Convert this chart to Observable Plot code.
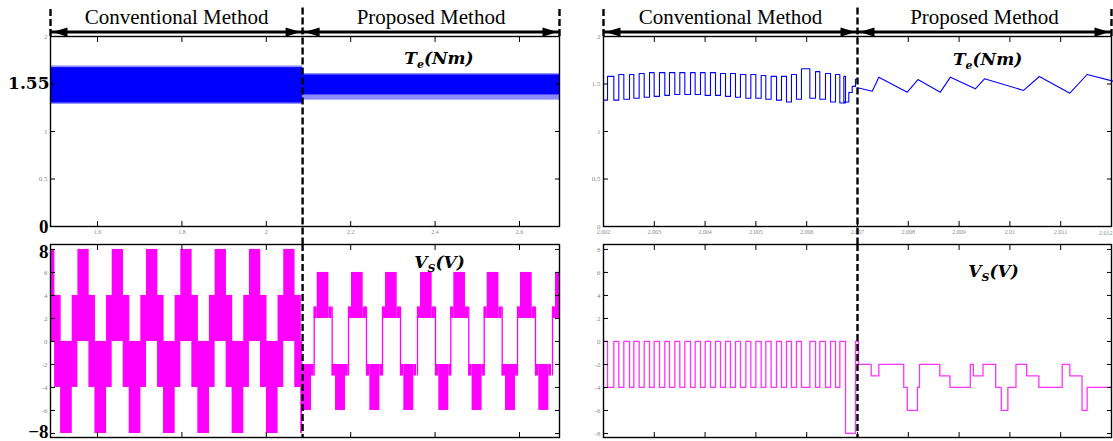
<!DOCTYPE html>
<html>
<head>
<meta charset="utf-8">
<script src="https://cdn.jsdelivr.net/npm/d3@7"></script>
<script src="https://cdn.jsdelivr.net/npm/@observablehq/plot@0.6"></script>
<style>
  html, body { margin: 0; padding: 0; background: #fff; }
  #root { position: relative; width: 1113px; height: 441px; overflow: hidden; background: #fff; }
  #root svg { position: absolute; left: 0; top: 0; overflow: visible; }
</style>
</head>
<body>
<div id="root"></div>
<script>
// ===================== DATA =====================
const methodLabels = ["Conventional Method", "Proposed Method"];

// Left column (long time window, s)
const leftXDomain = [1.4886, 2.6948];
const leftXTicks = [1.6, 1.8, 2.0, 2.2, 2.4, 2.6];
const leftSwitchT = 2.086;

// Right column (zoomed time window, s)
const rightXDomain = [2.002, 2.012];
const rightXTicks = [2.002, 2.003, 2.004, 2.005, 2.006, 2.007, 2.008, 2.009, 2.010, 2.011, 2.012];
const rightSwitchT = 2.007;

const teDomain = [0, 2];
const teTicks = [0, 0.5, 1, 1.5, 2];
const vsDomain = [-8.35, 8.43];
const vsTicks = [-8, -6, -4, -2, 0, 2, 4, 6, 8];

// Highlighted values written large beside the left column
const leftTeMean = ["1.55"];
const leftTeMeanAt = [1.5];
const leftTeZero = ["0"];
const leftTeZeroAt = [0];
const leftVsMarks = ["8", "\u22128"];
const leftVsMarkAt = [7.75, -7.9];

// Left Te: dense ripple envelope [t0, t1, low, high]
const leftTeCore = [[1.4886, 2.086, 1.30, 1.672], [2.086, 2.6948, 1.385, 1.595]];
const leftTeFuzz = [[1.4886, 2.086, 1.285, 1.69], [2.086, 2.6948, 1.33, 1.61]];

// Left Vs conventional: start of each electrical cycle and the block pattern in it [dt0, dt1, low, high]
const convVsCycleStart = [1.4587, 1.5400, 1.6213, 1.7026, 1.7839, 1.8652, 1.9465, 2.0278];
const convVsCycleShape = [[0, 0.0552, 0, 4], [0.0135, 0.0403, 0, 8], [0.0396, 0.0948, -4, 0], [0.0538, 0.0815, -8, 0]];

// Left Vs proposed: cycle starts and block pattern [dt0, dt1, low, high]
const propVsCycleStart = [2.0400, 2.1206, 2.2019, 2.2825, 2.3654, 2.4443, 2.5235, 2.6024, 2.6853];
const propVsCycleShape = [[0, 0.0277, 2, 6], [-0.0071, 0, 2, 3], [0.0277, 0.0355, 2, 3],
                          [0.0355, 0.0434, -3, -2], [0.0434, 0.0671, -6, -2], [0.0671, 0.0735, -3, -2]];
const propVsEdges = [-0.0071, 0.0355];

// Right Vs conventional: zero-voltage pulses (otherwise -4 V)
const rbConvZeroStart = [2.002000, 2.002203, 2.002400, 2.002597, 2.002801, 2.002997, 2.003207, 2.003404,
  2.003601, 2.003804, 2.004001, 2.004205, 2.004402, 2.004598, 2.004802, 2.004999, 2.005195, 2.005406,
  2.005602, 2.005799, 2.006062, 2.006258, 2.006469, 2.006652];
const rbConvZeroEnd = [2.002079, 2.002301, 2.002512, 2.002702, 2.002906, 2.003102, 2.003299, 2.003502,
  2.003713, 2.003909, 2.004106, 2.004303, 2.004500, 2.004696, 2.004900, 2.005104, 2.005300, 2.005504,
  2.005700, 2.005897, 2.006174, 2.006370, 2.006567, 2.006764];
const rbTailT = [2.006764, 2.006961];
const rbTailV = [-8, 0];
const rbPropT = [2.00702, 2.00727, 2.00742, 2.00791, 2.00798, 2.00818, 2.00822, 2.00862, 2.00882, 2.00922,
  2.00928, 2.00947, 2.00972, 2.00983, 2.00996, 2.01012, 2.01033, 2.01057, 2.01103, 2.01118, 2.01142, 2.01152, 2.012];
const rbPropV = [-2, -3, -2, -4, -6, -4, -2, -3, -4, -2, -3, -2, -4, -6, -4, -2, -3, -4, -2, -3, -6, -4, -4];

// Right Te conventional: low / high level per switching cycle
const rtConvLow = [1.33, 1.33, 1.34, 1.35, 1.36, 1.37, 1.38, 1.39, 1.39, 1.39, 1.38, 1.38,
  1.37, 1.36, 1.35, 1.35, 1.34, 1.33, 1.31, 1.34, 1.35, 1.34, 1.31, 1.30];
const rtConvHigh = [1.58, 1.60, 1.60, 1.61, 1.62, 1.62, 1.62, 1.62, 1.62, 1.62, 1.62, 1.61,
  1.61, 1.60, 1.60, 1.59, 1.58, 1.58, 1.60, 1.66, 1.63, 1.61, 1.60, 1.58];
const rtConvTailT = [2.006731, 2.006829, 2.006896, 2.006961, 2.00700];
const rtConvTailV = [1.31, 1.41, 1.475, 1.55, 1.55];
// Right Te proposed: sawtooth vertices
const rtPropT = [2.00700, 2.00729, 2.00742, 2.00798, 2.00819, 2.00863, 2.00883, 2.00932, 2.00950, 2.01027, 2.01058, 2.01118, 2.01152, 2.01203];
const rtPropV = [1.46, 1.424, 1.572, 1.414, 1.547, 1.414, 1.572, 1.449, 1.555, 1.432, 1.579, 1.403, 1.60, 1.53];

// ===================== BUILD =====================
const W = 1113, H = 441;
const root = document.getElementById("root");
const BLUE = "#0000ff", MAG = "#ff00ff", MAG2 = "#ff33ff";
const SERIF = "'Liberation Serif', 'Times New Roman', serif";
const MATH = "'DejaVu Serif', serif";
const GRAY = "#8a8a8a";
const dash = {stroke: "#000", strokeWidth: 2.4, strokeDasharray: "7,3"};

const toRect = ([x1, x2, y1, y2]) => ({x1, x2, y1, y2});
function cycleRects(starts, shape, t0, t1) {
  const out = [];
  for (const s of starts) for (const [a, b, lo, hi] of shape) {
    const x1 = Math.max(s + a, t0), x2 = Math.min(s + b, t1);
    if (x2 > x1) out.push({x1, x2, y1: lo, y2: hi});
  }
  return out;
}

const arrowHead = {draw(ctx) { ctx.moveTo(0, 0); ctx.lineTo(-15, -4.6); ctx.lineTo(-15, 4.6); ctx.closePath(); }};

function headerMarks(xd, sw) {
  const yArrow = 2.047, yText = 2.207;
  const segs = [[xd[0], sw], [sw, xd[1]]];
  return [
    Plot.link(segs, {x1: d => d[0], x2: d => d[1], y1: yArrow, y2: yArrow, stroke: "#000", strokeWidth: 3}),
    Plot.dot(segs, {x: d => d[0], y: yArrow, symbol: arrowHead, rotate: 180, r: 5, fill: "#000", stroke: "none", dx: 2}),
    Plot.dot(segs, {x: d => d[1], y: yArrow, symbol: arrowHead, r: 5, fill: "#000", stroke: "none", dx: -2}),
    Plot.text(methodLabels, {x: segs.map(d => (d[0] + d[1]) / 2), y: yText, text: d => d, fontSize: 21, fontFamily: SERIF, fill: "#000"}),
    Plot.ruleX([xd[0], xd[1]], {y1: 2, y2: 2.3, ...dash}),
    Plot.ruleX([sw], {y1: 2.3, y2: -0.2, ...dash})
  ];
}

function axisMarks(xTicks, yTicks, yLabelTicks, xFmt, xLabelTicks) {
  const m = [
    Plot.axisX({anchor: "bottom", ticks: xTicks, tickSize: -5, tickFormat: () => "", label: null, stroke: "#000"}),
    Plot.axisX({anchor: "top", ticks: xTicks, tickSize: -5, tickFormat: () => "", label: null, stroke: "#000"}),
    Plot.axisY({anchor: "left", ticks: yTicks, tickSize: -5, tickFormat: () => "", label: null, stroke: "#000"}),
    Plot.axisY({anchor: "right", ticks: yTicks, tickSize: -5, tickFormat: () => "", label: null, stroke: "#000"}),
    Plot.axisY({anchor: "left", ticks: yLabelTicks, tickSize: 0, tickPadding: 3, tickFormat: d => String(d), label: null, fontSize: 7, fill: GRAY, fontFamily: SERIF})
  ];
  if (xLabelTicks) m.push(Plot.axisX({anchor: "bottom", ticks: xLabelTicks, tickSize: 0, tickPadding: 3, tickFormat: xFmt, label: null, fontSize: 6, fill: GRAY, fontFamily: SERIF}));
  return m;
}

function panel(ml, mr, mt, mb, xd, yd, marks) {
  const svg = Plot.plot({
    width: W, height: H, marginLeft: ml, marginRight: mr, marginTop: mt, marginBottom: mb,
    x: {domain: xd}, y: {domain: yd},
    style: {background: "transparent", overflow: "visible"},
    marks
  });
  svg.style.position = "absolute"; svg.style.left = "0px"; svg.style.top = "0px";
  root.appendChild(svg);
  return svg;
}

function mathLabel(svg, key, parts) {
  d3.select(svg).selectAll("text").filter(function () { return this.textContent === key; }).each(function () {
    const t = d3.select(this); t.text(null);
    let shifted = false;
    for (const [s, sub] of parts) {
      const ts = t.append("tspan").text(s);
      if (sub) { ts.attr("font-size", "11px").attr("dy", "4px"); shifted = true; }
      else if (shifted) { ts.attr("dy", "-4px"); shifted = false; }
    }
  });
}

const bigLabel = {fontFamily: SERIF, fontWeight: "bold", fontSize: 19, fill: "#000", textAnchor: "end", dx: -2};
const bigMath = {fontFamily: MATH, fontWeight: "bold", fontSize: 17, fill: "#000", textAnchor: "end", dx: -1};
const mathStyle = {fontFamily: MATH, fontWeight: "bold", fontStyle: "italic", fontSize: 17, fill: "#000"};
const leftFmt = d => String(d);
const rightFmt = d => String(+d.toFixed(3));
const lastRightTick = rightXTicks[rightXTicks.length - 1];

// ---- Left bottom: Vs ----
const lb = panel(50, W - 559, 244, 4, leftXDomain, vsDomain, [
  Plot.rect(cycleRects(convVsCycleStart, convVsCycleShape, leftXDomain[0], leftSwitchT), {x1: "x1", x2: "x2", y1: "y1", y2: "y2", fill: MAG}),
  Plot.rect(cycleRects(propVsCycleStart, propVsCycleShape, leftSwitchT, leftXDomain[1]), {x1: "x1", x2: "x2", y1: "y1", y2: "y2", fill: MAG}),
  Plot.ruleX(propVsCycleStart.flatMap(s => propVsEdges.map(e => s + e)).filter(t => t > leftSwitchT && t < leftXDomain[1]), {y1: -3, y2: 3, stroke: MAG, strokeWidth: 1.3}),
  Plot.frame({stroke: "#000", strokeWidth: 1.4}),
  ...axisMarks(leftXTicks, vsTicks, vsTicks.filter(v => Math.abs(v) < 8), leftFmt, null),
  Plot.ruleX([leftSwitchT], {y1: vsDomain[1], y2: vsDomain[0], ...dash}),
  Plot.text(leftVsMarks, {x: leftXDomain[0], y: leftVsMarkAt, text: d => d, ...bigLabel}),
  Plot.text(["Vs(V)"], {x: 2.4104, y: 6.82, text: d => d, ...mathStyle})
]);
mathLabel(lb, "Vs(V)", [["V", false], ["S", true], ["(V)", false]]);

// ---- Left top: Te ----
const lt = panel(50, W - 559, 36, H - 226, leftXDomain, teDomain, [
  Plot.rect(leftTeFuzz.map(toRect), {x1: "x1", x2: "x2", y1: "y1", y2: "y2", fill: BLUE, fillOpacity: 0.45}),
  Plot.rect(leftTeCore.map(toRect), {x1: "x1", x2: "x2", y1: "y1", y2: "y2", fill: BLUE}),
  Plot.frame({stroke: "#000", strokeWidth: 1.4}),
  ...axisMarks(leftXTicks, teTicks, teTicks.filter(v => !leftTeMeanAt.includes(v) && !leftTeZeroAt.includes(v)), leftFmt, leftXTicks),
  ...headerMarks(leftXDomain, leftSwitchT),
  Plot.text(leftTeMean, {x: leftXDomain[0], y: leftTeMeanAt, text: d => d, ...bigMath}),
  Plot.text(leftTeZero, {x: leftXDomain[0], y: leftTeZeroAt, text: d => d, ...bigLabel}),
  Plot.text(["Te(Nm)"], {x: 2.4092, y: 1.773, text: d => d, ...mathStyle})
]);
mathLabel(lt, "Te(Nm)", [["T", false], ["e", true], ["(Nm)", false]]);

// ---- Right bottom: Vs ----
const rbPts = [];
rbConvZeroStart.forEach((s, i) => { rbPts.push({t: s, v: 0}); rbPts.push({t: rbConvZeroEnd[i], v: -4}); });
rbTailT.forEach((t, i) => rbPts.push({t, v: rbTailV[i]}));
rbPropT.forEach((t, i) => rbPts.push({t, v: rbPropV[i]}));
const rb = panel(603, W - 1111, 244, 4, rightXDomain, vsDomain, [
  Plot.line(rbPts, {x: "t", y: "v", curve: "step-after", stroke: MAG2, strokeWidth: 1.3}),
  Plot.frame({stroke: "#000", strokeWidth: 1.4}),
  ...axisMarks(rightXTicks, vsTicks, vsTicks, rightFmt, null),
  Plot.ruleX([rightSwitchT], {y1: vsDomain[1], y2: vsDomain[0], ...dash}),
  Plot.text(["Vs(V)"], {x: 2.009677, y: 6.12, text: d => d, ...mathStyle})
]);
mathLabel(rb, "Vs(V)", [["V", false], ["S", true], ["(V)", false]]);

// ---- Right top: Te ----
const rtConvPts = [];
rbConvZeroStart.forEach((s, i) => { rtConvPts.push({t: s, v: rtConvLow[i]}); rtConvPts.push({t: rbConvZeroEnd[i], v: rtConvHigh[i]}); });
rtConvTailT.forEach((t, i) => rtConvPts.push({t, v: rtConvTailV[i]}));
const rtPropPts = rtPropT.map((t, i) => ({t, v: rtPropV[i]}));
const rt = panel(603, W - 1111, 36, H - 226, rightXDomain, teDomain, [
  Plot.line(rtConvPts, {x: "t", y: "v", curve: "step-after", stroke: BLUE, strokeWidth: 1.1}),
  Plot.line(rtPropPts, {x: "t", y: "v", stroke: BLUE, strokeWidth: 1.1}),
  Plot.frame({stroke: "#000", strokeWidth: 1.4}),
  ...axisMarks(rightXTicks, teTicks, teTicks, rightFmt, rightXTicks.filter(t => t !== lastRightTick)),
  Plot.text([lastRightTick], {x: d => d, y: 0, text: rightFmt, textAnchor: "end", dy: 7, dx: 1, fontSize: 6, fill: GRAY, fontFamily: SERIF}),
  ...headerMarks(rightXDomain, rightSwitchT),
  Plot.text(["Te(Nm)"], {x: 2.00956, y: 1.762, text: d => d, ...mathStyle})
]);
mathLabel(rt, "Te(Nm)", [["T", false], ["e", true], ["(Nm)", false]]);
</script>
</body>
</html>
